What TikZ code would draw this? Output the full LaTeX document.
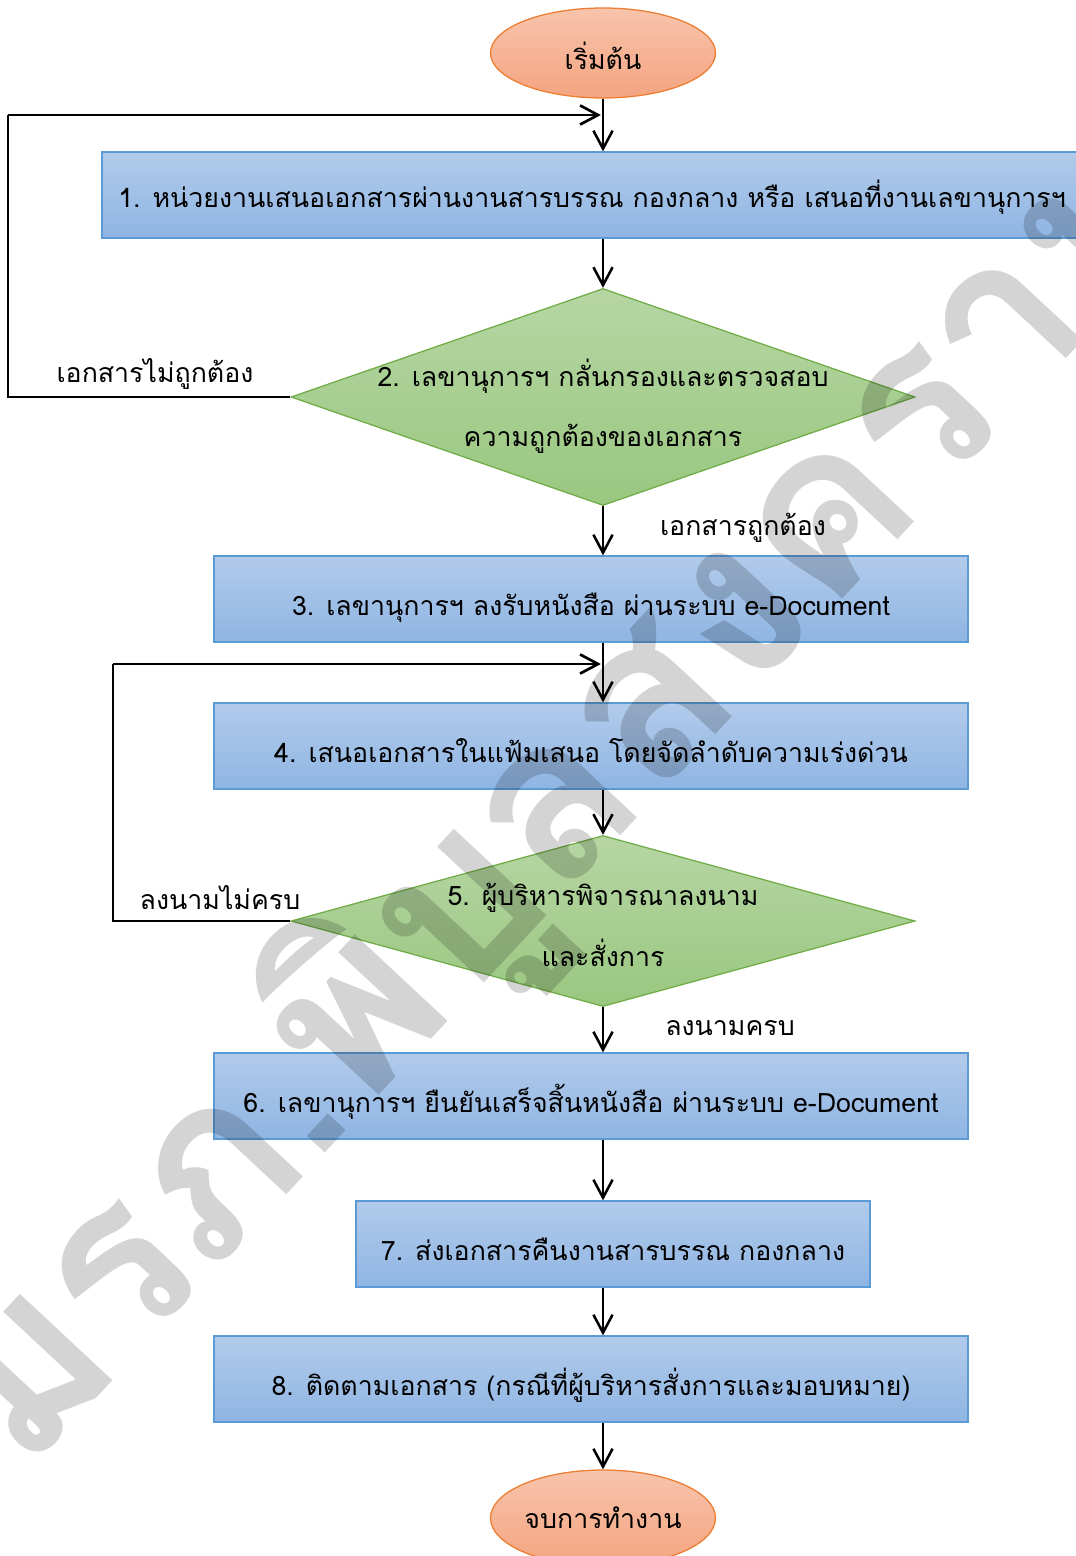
\documentclass[tikz,border=0pt]{standalone}
\usepackage{fontspec}
\newfontfamily\thai[Script=Thai]{Loma}
\usetikzlibrary{shapes.geometric,arrows.meta}

\definecolor{boxtop}{RGB}{178,203,235}
\definecolor{boxbot}{RGB}{143,181,227}
\definecolor{boxedge}{RGB}{91,155,213}
\definecolor{dtop}{RGB}{182,214,164}
\definecolor{dbot}{RGB}{154,199,128}
\definecolor{dedge}{RGB}{112,173,71}
\definecolor{etop}{RGB}{248,196,172}
\definecolor{ebot}{RGB}{244,164,128}
\definecolor{eedge}{RGB}{237,125,49}

\begin{document}
\begin{tikzpicture}[x=0.025cm,y=-0.025cm,
  txt/.style={font=\thai\fontsize{19}{23}\selectfont},
  stepbox/.style={draw=boxedge, line width=0.9pt, top color=boxtop, bottom color=boxbot,
    minimum height=86*0.025cm, inner sep=0pt, text height=23pt, text depth=0pt, txt},
  decision/.style={diamond, draw=dedge, line width=0.9pt, top color=dtop, bottom color=dbot,
    inner sep=0pt},
  dtext/.style={txt, align=center, font=\thai\fontsize{19}{43}\selectfont},
  terminal/.style={ellipse, draw=eedge, line width=0.9pt, top color=etop, bottom color=ebot,
    minimum width=225*0.025cm, inner sep=0pt, txt},
  lab/.style={txt, inner sep=0pt},
  arr/.style={line width=1.8pt, -{Straight Barb[length=0.45cm,width=0.48cm]}},
  loopline/.style={line width=0.9pt},
  looparr/.style={line width=1.9pt, -{Straight Barb[length=0.45cm,width=0.48cm]}},
]
\useasboundingbox (0,0) rectangle (1076,1556);
\clip (0,0) rectangle (1076,1556);
\fill[white] (0,0) rectangle (1076,1556);

% terminals
\node[terminal, minimum height=90*0.025cm, text height=23pt, text depth=0pt] (start) at (603,53) {เริ่มต้น};
\node[terminal, minimum height=96*0.025cm] (stop) at (603,1518) {จบการทำงาน};

% process steps
\node[stepbox, minimum width=980*0.025cm, text height=18pt] (b1) at (592,195)
  {1. หน่วยงานเสนอเอกสารผ่านงานสารบรรณ กองกลาง หรือ เสนอที่งานเลขานุการฯ};
\node[stepbox, minimum width=754*0.025cm] (b3) at (591,599)
  {3. เลขานุการฯ ลงรับหนังสือ ผ่านระบบ e-Document};
\node[stepbox, minimum width=754*0.025cm] (b4) at (591,746)
  {4. เสนอเอกสารในแฟ้มเสนอ โดยจัดลำดับความเร่งด่วน};
\node[stepbox, minimum width=754*0.025cm] (b6) at (591,1096)
  {6. เลขานุการฯ ยืนยันเสร็จสิ้นหนังสือ ผ่านระบบ e-Document};
\node[stepbox, minimum width=514*0.025cm] (b7) at (613,1244)
  {7. ส่งเอกสารคืนงานสารบรรณ กองกลาง};
\node[stepbox, minimum width=754*0.025cm] (b8) at (591,1379)
  {8. ติดตามเอกสาร (กรณีที่ผู้บริหารสั่งการและมอบหมาย)};

% decisions
\node[decision, minimum width=624*0.025cm, minimum height=217*0.025cm] (d2) at (603,397) {};
\node[dtext] (d2t) at (603,406) {2. เลขานุการฯ กลั่นกรองและตรวจสอบ\\ความถูกต้องของเอกสาร};
\node[decision, minimum width=624*0.025cm, minimum height=171*0.025cm] (d5) at (603,921) {};
\node[dtext] (d5t) at (603,925) {5. ผู้บริหารพิจารณาลงนาม\\และสั่งการ};

% branch labels
\node[lab] (no2) at (155,374) {เอกสารไม่ถูกต้อง};
\node[lab] (yes2) at (743,528) {เอกสารถูกต้อง};
\node[lab] (no5) at (220,898) {ลงนามไม่ครบ};
\node[lab] (yes5) at (730,1028) {ลงนามครบ};

% main flow
\draw[arr] (start.south) -- (start.south |- b1.north);
\draw[arr] (b1.south -| start.south) -- (d2.north);
\draw[arr] (d2.south) -- (d2.south |- b3.north);
\draw[arr] (b3.south -| d2.south) -- (d2.south |- b4.north);
\draw[arr] (b4.south -| d5.north) -- (d5.north);
\draw[arr] (d5.south) -- (d5.south |- b6.north);
\draw[arr] (b6.south -| d5.south) -- (d5.south |- b7.north);
\draw[arr] (b7.south -| d5.south) -- (d5.south |- b8.north);
\draw[arr] (b8.south -| d5.south) -- (stop.north);

% return loops
\coordinate (r1) at (8,115);
\coordinate (r2) at (113,664);
\draw[loopline] (d2.west) -| (r1);
\draw[looparr] (r1) -- ([xshift=-1.5pt]r1 -| start.south);
\draw[loopline] (d5.west) -| (r2);
\draw[looparr] (r2) -- ([xshift=-1.5pt]r2 -| d2.south);

% watermark
\node[rotate=47, font=\thai\bfseries\fontsize{162}{170}\selectfont, text=black, opacity=0.17,
  inner sep=0pt] (wm) at (565,800) {มรภ.พิบูลสงคราม};
\end{tikzpicture}
\end{document}
